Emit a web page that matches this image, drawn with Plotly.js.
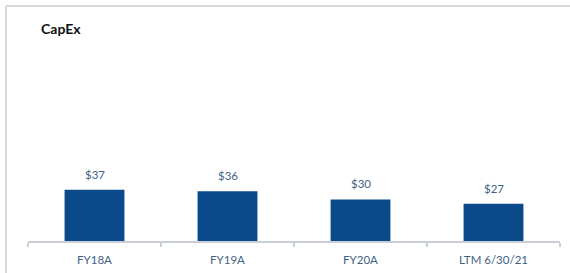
<!DOCTYPE html>
<html>
<head>
<meta charset="utf-8">
<script src="https://cdn.plot.ly/plotly-3.0.1.min.js"></script>
<style>
html,body{margin:0;padding:0;background:#fff;}
#chart{width:570px;height:273px;}
</style>
</head>
<body>
<div id="chart"></div>
<script>
var categories = ["FY18A", "FY19A", "FY20A", "LTM 6/30/21"];
var capex = [37, 36, 30, 27];
var valueLabels = ["$37", "$36", "$30", "$27"];

var barColor = "#0B4A8A";
var textColor = "#3F6185";

var trace = {
  type: "bar",
  x: categories,
  y: capex,
  marker: {color: barColor},
  hoverinfo: "none"
};

var annotations = categories.map(function (c, i) {
  return {
    x: c, y: capex[i], xref: "x", yref: "y",
    text: valueLabels[i], showarrow: false,
    yanchor: "bottom", yshift: 7,
    font: {family: "Lato, 'Open Sans', sans-serif", size: 11.5, color: textColor}
  };
});

var L = 28, R = 10, T = 50, B = 32, W = 570, H = 273;
var pw = W - L - R, ph = H - T - B;
function px(x) { return (x - L) / pw; }
function py(y) { return (H - B - y) / ph; }

var layout = {
  width: W, height: H,
  margin: {l: L, r: R, t: T, b: B, pad: 0},
  paper_bgcolor: "#ffffff",
  plot_bgcolor: "#ffffff",
  showlegend: false,
  bargap: 0.55,
  font: {family: "Lato, 'Open Sans', sans-serif", color: textColor},
  title: {
    text: "<b>CapEx</b>",
    x: 14 / W, xanchor: "left", xref: "paper",
    y: 1 - 29 / H, yanchor: "middle", yref: "container",
    font: {family: "Lato, 'Open Sans', sans-serif", size: 14, color: "#111111"}
  },
  xaxis: {
    type: "category",
    showline: true, linecolor: "#C9CED6", linewidth: 1.5,
    ticks: "outside", tickson: "boundaries", ticklen: 4, tickcolor: "#C9CED6", tickwidth: 1.5,
    ticklabelstandoff: 8,
    showgrid: false, zeroline: false,
    tickfont: {family: "Lato, 'Open Sans', sans-serif", size: 11.5, color: textColor},
    fixedrange: true
  },
  yaxis: {
    range: [0, 138],
    visible: false, showgrid: false, zeroline: false, fixedrange: true
  },
  annotations: annotations,
  shapes: [
    {type: "line", xref: "paper", yref: "paper", x0: px(6), x1: px(575), y0: py(6), y1: py(6),
     line: {color: "#D9D9D9", width: 2}},
    {type: "line", xref: "paper", yref: "paper", x0: px(6), x1: px(6), y0: py(6), y1: py(280),
     line: {color: "#D9D9D9", width: 2}}
  ]
};

Plotly.newPlot("chart", [trace], layout, {displayModeBar: false, staticPlot: true});
</script>
</body>
</html>
